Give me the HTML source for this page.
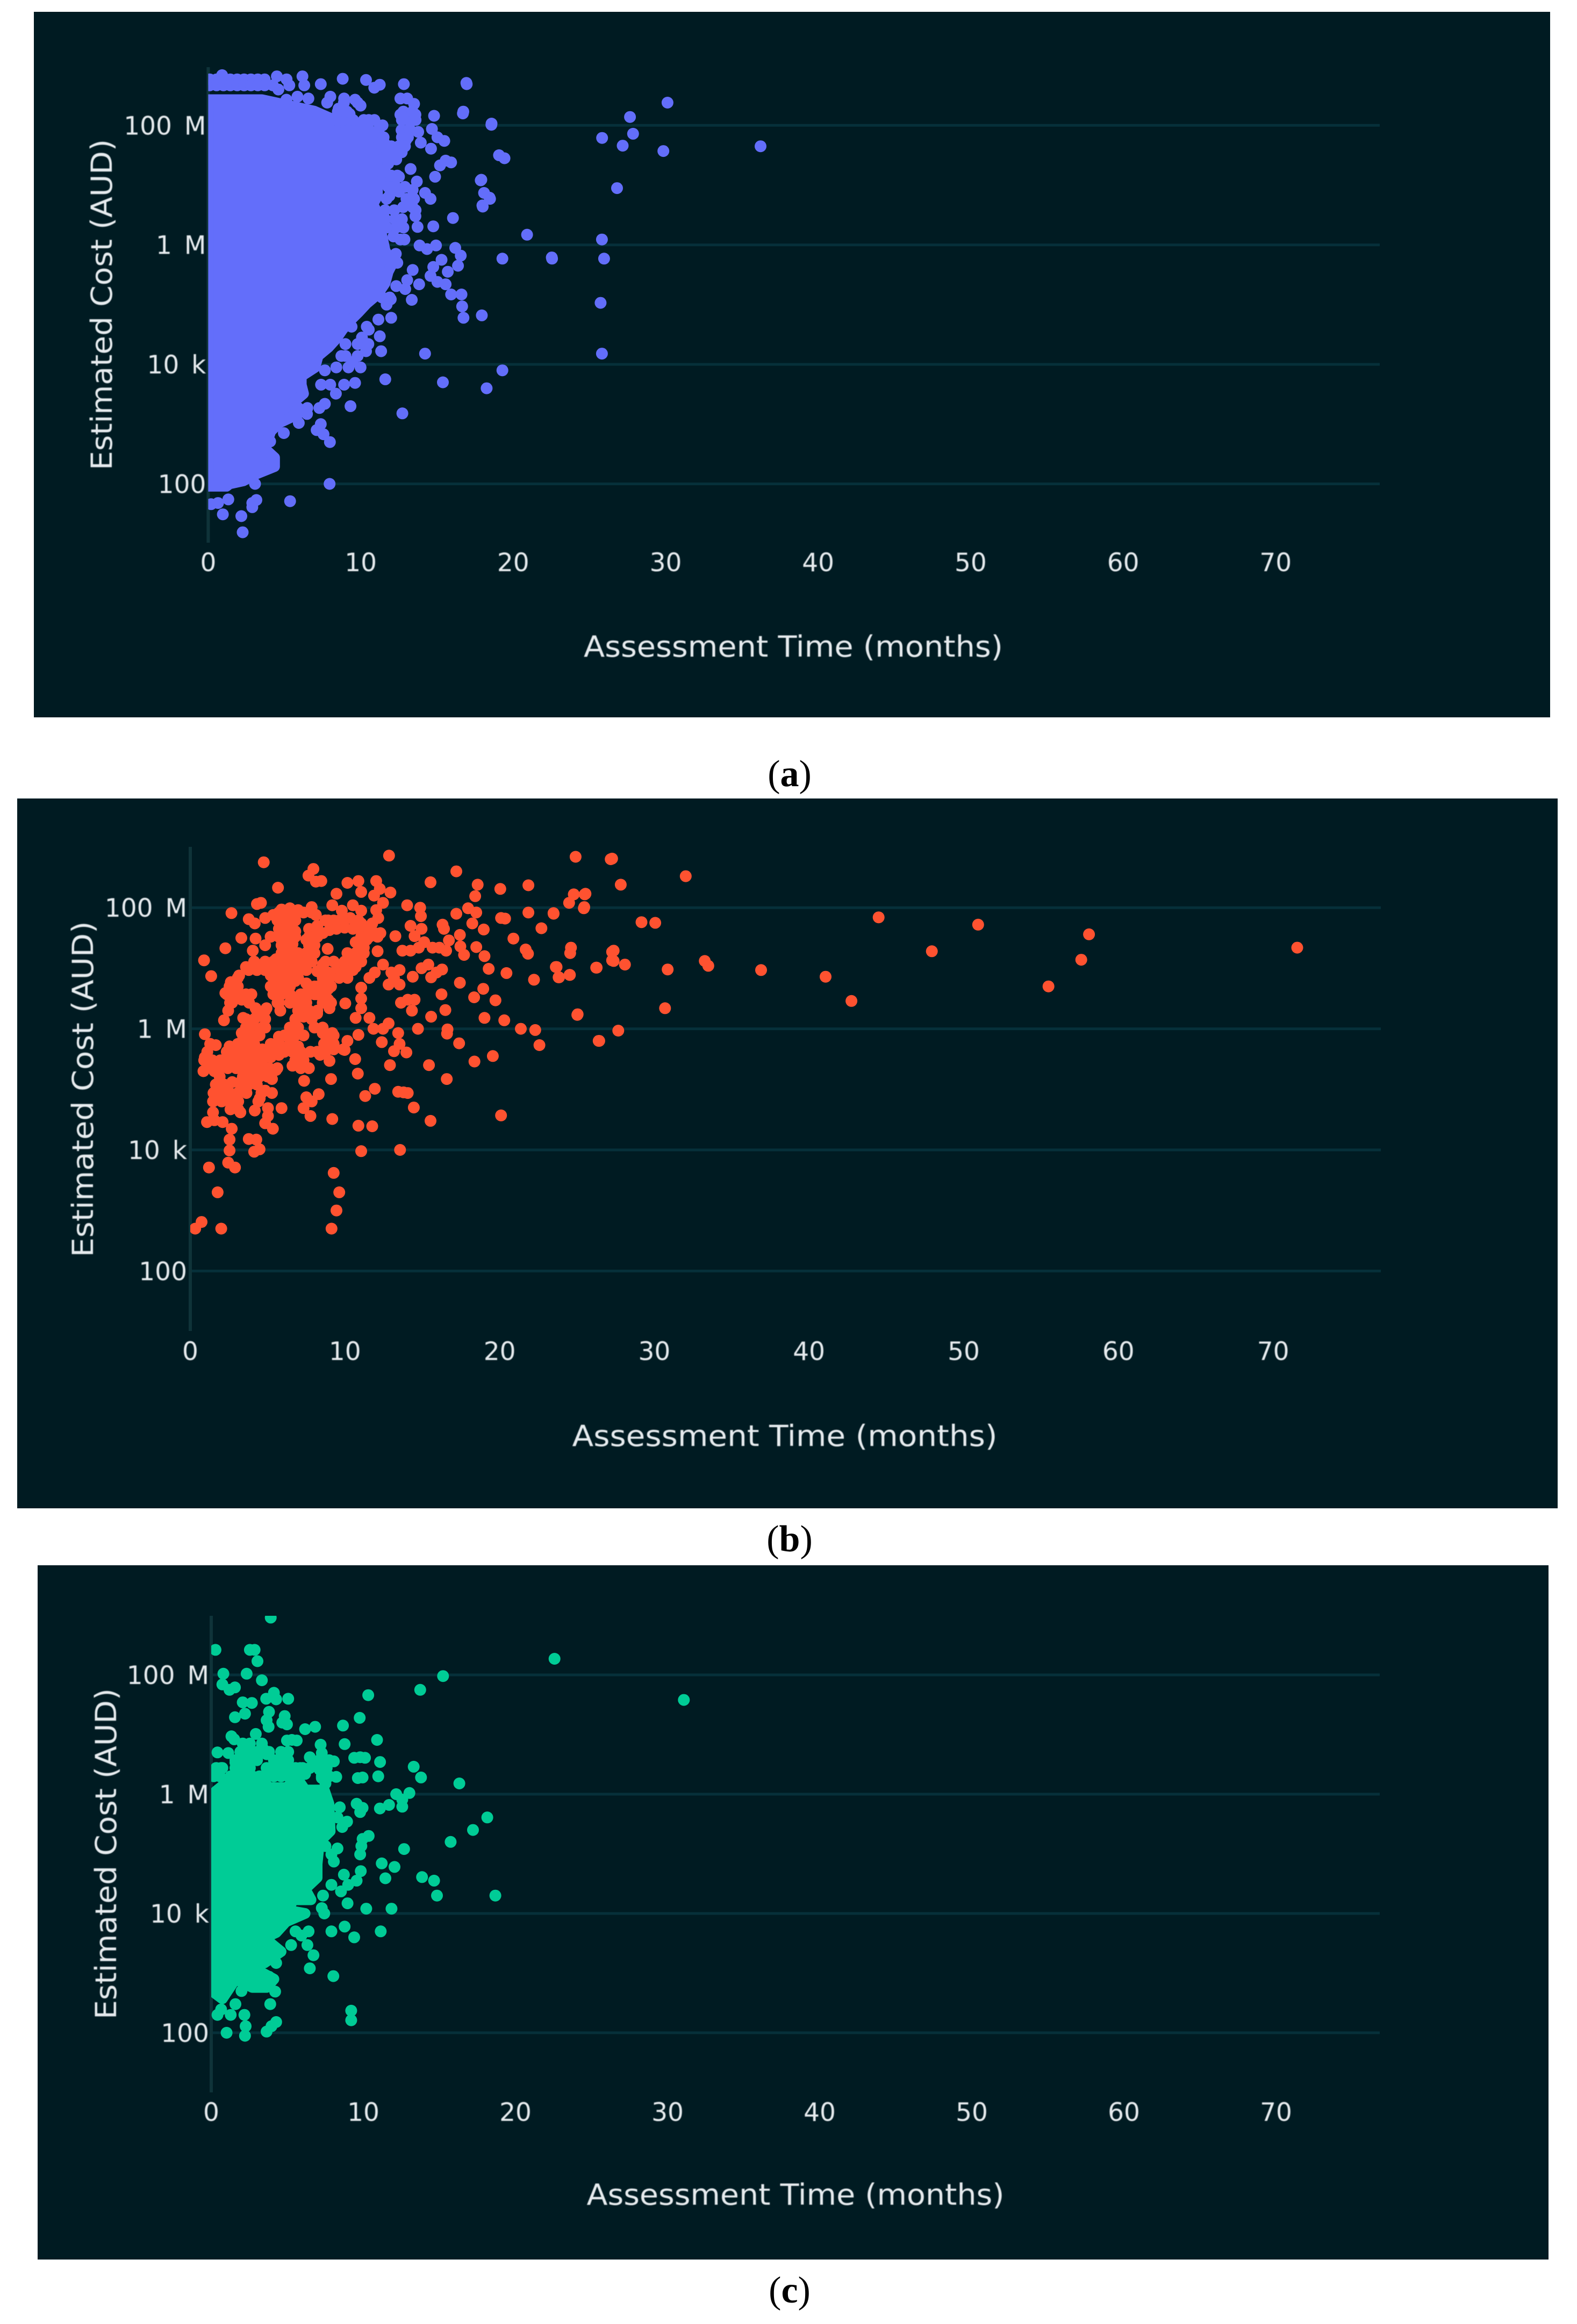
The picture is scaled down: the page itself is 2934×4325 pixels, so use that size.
<!DOCTYPE html>
<html lang="en">
<head>
<meta charset="utf-8">
<title>Estimated Cost vs Assessment Time</title>
<style>
html,body{margin:0;padding:0;background:#fff;width:2934px;height:4325px;overflow:hidden}
svg{display:block}
.tick{font-family:"DejaVu Sans","Liberation Sans",sans-serif;font-size:47px;fill:#e6ebee;filter:blur(.7px)}
.ytick{word-spacing:8px}
.title{font-family:"DejaVu Sans","Liberation Sans",sans-serif;font-size:54px;fill:#e6ebee;filter:blur(.7px)}
.cap{font-family:"Liberation Serif",serif;font-size:70px;fill:#000}
.cap tspan{font-weight:bold}
</style>
</head>
<body>
<svg id="figure" xmlns="http://www.w3.org/2000/svg" width="2934" height="4325" viewBox="0 0 2934 4325">
  <rect x="0" y="0" width="2934" height="4325" fill="#ffffff"/>

  <g id="panel-a">
    <rect x="63" y="22" width="2821" height="1313" fill="#001b22"/>
    <text class="title" x="1476" y="1222" text-anchor="middle" textLength="780" lengthAdjust="spacingAndGlyphs">Assessment Time (months)</text>
    <text class="title" transform="translate(208 567) rotate(-90)" text-anchor="middle" textLength="616" lengthAdjust="spacingAndGlyphs">Estimated Cost (AUD)</text>
  </g>
  <text class="cap" x="1469" y="1463" text-anchor="middle">(<tspan>a</tspan>)</text>

  <g id="panel-b">
    <rect x="32" y="1486" width="2866" height="1321" fill="#001b22"/>
    <text class="title" x="1460" y="2691" text-anchor="middle" textLength="791" lengthAdjust="spacingAndGlyphs">Assessment Time (months)</text>
    <text class="title" transform="translate(173 2027) rotate(-90)" text-anchor="middle" textLength="625" lengthAdjust="spacingAndGlyphs">Estimated Cost (AUD)</text>
  </g>
  <text class="cap" x="1469" y="2887" text-anchor="middle">(<tspan>b</tspan>)</text>

  <g id="panel-c">
    <rect x="70" y="2913" width="2811" height="1292" fill="#001b22"/>
    <text class="title" x="1480" y="4103" text-anchor="middle" textLength="777" lengthAdjust="spacingAndGlyphs">Assessment Time (months)</text>
    <text class="title" transform="translate(216 3450) rotate(-90)" text-anchor="middle" textLength="616" lengthAdjust="spacingAndGlyphs">Estimated Cost (AUD)</text>
  </g>
  <text class="cap" x="1469" y="4285" text-anchor="middle">(<tspan>c</tspan>)</text>
</svg>

<script>
// Shared axis data
const xTickValues = [0, 10, 20, 30, 40, 50, 60, 70];
const yTickLog10 = [2, 4, 6, 8];
const yTickLabels = ['100', '10 k', '1 M', '100 M'];

// Each point: [assessment months, log10 of estimated cost in AUD]
// Panel (a): overplotted mass, outline read as [months, log10 cost]
const panelACore = [[0,8.43],[3.52,8.43],[5.13,8.34],[6.93,8.24],[8.19,8.1],[9.81,7.96],[10.89,7.82],[11.6,7.7],[11.8,7.55],[11.3,7.41],[11.6,7.26],[11.45,7.11],[11.1,6.97],[11.1,6.82],[10.8,6.68],[11.1,6.53],[11.3,6.38],[11.3,6.24],[11.45,6.09],[11.6,5.9],[12.1,5.7],[11.8,5.55],[11.6,5.36],[11.1,5.17],[10.4,5.02],[9.85,4.87],[9.3,4.73],[8.8,4.58],[8.4,4.43],[7.9,4.29],[7.2,4.14],[7,3.95],[6.1,3.8],[6.1,3.66],[6.25,3.51],[5.55,3.36],[5.9,3.17],[4.65,3.02],[4.1,2.88],[3.9,2.73],[3.75,2.58],[4.35,2.44],[4.35,2.29],[3,2.15],[2.3,2.05],[1.4,2],[1.2,1.96],[0,1.96]];
const panelAPoints = [
[0.1,8.77],[0.55,8.77],[1,8.77],[1.45,8.77],[1.9,8.77],[2.35,8.77],[2.8,8.77],[3.25,8.77],[3.7,8.77],
[0.1,8.67],[0.55,8.67],[1,8.67],[1.45,8.67],[1.9,8.67],[2.35,8.67],[2.8,8.67],[3.25,8.67],[3.7,8.67],
[0.91,8.84],[4.5,8.82],[5.14,8.77],[4.24,8.67],[4.6,8.6],[5.32,8.67],[6.18,8.82],[6.3,8.67],[7.38,8.69],[8.82,8.78],[10.35,8.76],[10.89,8.63],[11.25,8.68],[12.83,8.69],[16.95,8.69],
[8.01,8.48],[8.91,8.45],[9.63,8.43],[9.99,8.33],[8.55,8.28],[9.27,8.19],[8.82,8.09],[6.57,8.45],[5.85,8.48],[5.13,8.43],[4.06,8.38],[10.53,8.09],[11.43,8],
[12.6,8.45],[13.05,8.45],[13.5,8.36],[13.59,8.18],[12.6,8.18],[12.68,7.92],[13.77,7.89],[13.16,8.09],[14.81,8.16],[16.7,8.2],
[18.57,8.01],[14.67,7.94],[15.03,7.8],[15.48,7.74],[13.94,7.71],[14.61,7.61],[12.96,7.75],[12.69,7.55],[12.33,7.43],
[19.07,7.5],[19.43,7.45],[15.2,7.33],[15.57,7.41],[15.93,7.38],[13.27,7.27],[14.88,7.14],[17.87,7.08],[12.51,7.14],[13.68,7.06],[13.41,6.92],[12.51,6.89],[14.22,6.87],[14.58,6.77],[11.97,7.02],[11.88,6.82],
[18.09,6.87],[18.48,6.77],[18,6.64],[12.78,6.63],[13.41,6.63],[13.59,6.48],[12.24,6.43],[12.33,6.29],[13.73,6.3],[14.76,6.31],[16.05,6.45],[12.87,6.09],[12.15,6.14],[20.91,6.17],
[25.82,6.09],[25.96,5.77],[22.55,5.77],[19.29,5.77],
[13.86,5.99],[14.35,5.93],[14.94,5.99],[16.2,5.95],[16.56,5.82],[16.38,5.65],[15.3,5.75],[14.76,5.63],[15.71,5.55],[14.58,5.48],[15.03,5.38],[15.57,5.34],[13.41,5.58],[13.05,5.41],[12.33,5.31],[12.92,5.26],[13.83,5.34],[15.93,5.17],[16.61,5.17],[16.65,4.97],[16.74,4.78],[17.94,4.82],[13.35,5.08],[11.97,5.09],[11.7,5],[12,4.78],[11.16,4.75],[10.53,4.58],[10.08,4.45],[11.25,4.47],[10.35,4.22],[11.34,4.22],[14.22,4.18],[25.82,4.18],[25.73,5.03],[19.29,3.9],[15.39,3.7],[18.26,3.6],[11.61,3.75],[9.63,3.69],[8.37,3.51],[8.91,3.66],[7.65,3.34],[9.33,3.3],[12.73,3.18],[9.99,3.95],[9.45,4.04],[7.65,3.9],[8.73,4.14],
[7.29,3.27],[6.48,3.17],[7.38,3],[7.11,2.9],[7.56,2.83],[7.98,2.7],[4.96,2.85],[4.06,2.71],[5.94,3.02],
[7.96,2],[3.07,2],[5.37,1.71],[2.89,1.68],[3.16,1.73],[2.89,1.61],[1.32,1.74],[0.64,1.68],[0.19,1.66],[0.96,1.49],[2.17,1.46],[2.26,1.19],
[30.12,8.38],[27.66,8.14],[27.86,7.86],[25.83,7.79],[27.18,7.66],[29.85,7.57],[36.22,7.65],[26.81,6.95],[22.53,5.79],[16.73,8.23],[16.93,8.71],[18.58,8.03],[17.91,7.09],[17.98,6.66],[18.45,6.79],
[7.8,8.38],[8.9,8.38],[9.8,8.38],[8.5,8.23],[9.1,8.23],[12.8,8.23],[13.4,8.23],[9.5,8.09],[10.2,8.09],[10.9,8.09],[12.7,8.09],[13.6,8.09],[10.5,7.94],[11.2,7.94],[13.2,7.94],[11,7.8],[11.5,7.8],[12.7,7.8],[13.1,7.8],[11.4,7.65],[12,7.65],[12.5,7.65],[12.9,7.65],[11.7,7.5],[12.3,7.5],[11.8,7.36],[12,7.16],[12.4,7.16],[11.8,6.97],[12.3,6.97],[12.9,6.97],[11.7,6.77],[13,6.77],[13.5,6.77],[11.6,6.58],[12.2,6.58],[13.6,6.58],[11.6,6.43],[12.7,6.43],[11.7,6.29],[12.8,6.29],[12.6,6.09],[12.3,5.85],[12.4,5.7],[11.4,5.12],[11.9,5.12],[9.4,4.63],[10.4,4.63],[9,4.34],[9.8,4.34],[10.5,4.34],[9,4.14],[9.8,4.14],[8.4,3.95],[9.2,3.95],[7.4,3.66],[8,3.66],[5.9,3.27],[6.5,3.27]
];

// Panel (b)
const panelBCore = [];
const panelBPoints = [
[4.75,8.75],[12.85,8.86],[5.67,8.33],[7.96,8.64],[7.64,8.53],[8.12,8.43],[8.47,8.44],[10.16,8.41],[10.87,8.44],[11.05,8.26],[12.02,8.44],[12.25,8.31],[12.94,8.25],[11.88,8.2],[12.46,8.08],[12.02,7.96],[12.15,7.83],[9.45,8.23],[15.53,8.42],[17.2,8.6],[18.58,8.38],[20.04,8.31],[21.86,8.37],[24.91,8.84],[27.18,8.8],[24.79,8.22],[25.55,8.23],[24.49,8.08],[25.44,7.99],[21.86,7.92],[23.49,7.9],[22.7,7.66],[20.89,7.49],[20.09,7.83],[20.35,7.82],[18.97,7.64],[18.42,8.19],[17.96,7.99],[18.49,7.92],[18.23,7.74],[17.2,7.9],[14.02,8.04],[14.86,8],[14.91,7.86],[16.31,7.72],[14.24,7.7],[14.95,7.65],[14.5,7.53],[13.26,7.53],[16.4,7.65],[17.43,7.55],[16.72,7.46],[17.46,7.36],[17.7,7.22],[18.49,7.35],[19.02,7.2],[19.29,6.99],[20.44,6.92],[22.22,6.81],[21.68,7.31],[21.83,7.24],[24.61,7.34],[24.56,7.25],[23.63,7.02],[23.81,6.85],[24.52,6.89],[26.24,7.01],[27.27,7.27],[27.27,7.13],[25.02,6.23],[26.44,5.8],[22.57,5.73],[22.3,5.98],[21.37,6],[20.3,6.14],[19.02,6.18],[19.73,6.47],[18.35,6.52],[18.94,6.66],[17.43,6.76],[16.24,6.57],[16.49,6.31],[15.57,6.2],[16.63,5.99],[16.6,5.92],[14.72,6],[17.38,5.76],[18.37,5.46],[19.56,5.55],[15.43,5.4],[16.58,5.17],[12.91,5.4],[20.09,4.57],[15.53,4.48],[14.45,4.7],[13.79,4.95],[13.44,4.96],[14.06,4.94],[11.93,5.01],[11.31,4.89],[10.87,4.4],[11.76,4.39],[11.05,3.98],[13.56,4],[9.18,4.51],[9.27,3.62],[9.63,3.3],[9.45,3],[9.13,2.7],[2,2.7],[0.32,2.7],[0.73,2.81],[1.77,3.3],[1.21,3.71],[2.45,3.79],[2.89,3.71],[2.54,4.17],[2.54,3.99],[2.68,4.35],[4.13,3.97],[4.48,4.01],[3.78,4.18],[4.27,4.17],[1.08,4.46],[1.56,4.49],[2.09,4.46],[1.47,4.62],[4.84,4.44],[5.34,4.35],[5.02,4.56],[5.9,4.69],[5.02,4.69],[4.17,4.65],[7.77,4.56],[7.32,4.69],[7.85,4.8],[8.3,4.92],[7.5,4.87],[9.1,5.17],[7.36,5.14],[10.83,5.26],[10.66,5.5],[9,5.47],[9.98,5.65],[12.38,5.78],[13.97,5.61],[13.17,5.63],[13.53,5.75],[13.44,5.93],[10.02,6.42],[8.88,7.32],[12.11,7.28],[12.29,7.58],
[4.31,8.06],[4.57,8.08],[2.66,7.91],[3.78,7.81],[4.17,7.74],[4.84,7.83],[5.37,7.88],[5.9,7.97],[6.44,7.99],[6.97,7.96],[7.85,8.01],[8.12,7.88],[6.08,7.79],[6.79,7.79],[6.26,7.61],[6.79,7.61],[5.9,7.47],[6.61,7.4],[8.21,7.7],[7.85,7.56],[8.57,7.58],[7.5,7.47],[9.18,8.04],[9.8,7.95],[10.51,8.04],[11.05,7.95],[8.92,7.79],[9.63,7.79],[10.34,7.83],[9,7.63],[9.98,7.67],[11.05,7.74],[11.58,7.65],[11.22,7.56],[11.93,7.58],[11.76,7.74],[11.4,7.47],[4.22,7.49],[5.19,7.52],[4.84,7.38],[3.3,7.5],[2.27,7.33],[0.89,7.13],[1.35,6.87],[4.04,7.29],[4.13,7.11],[3.6,7.02],[4.48,7.02],[3.16,6.88],[2.62,6.77],[5.55,7.15],[6.26,7.2],[6.97,7.25],[7.67,7.25],[6.44,7.34],[5.2,6.88],[5.9,6.97],[6.61,7.02],[7.32,7.02],[5.55,6.75],[6.26,6.79],[5.2,6.7],[5.73,6.57],[5.82,6.3],[5.64,6.43],[6.79,6.79],[8.57,7.06],[8.92,6.93],[9.63,7.04],[10.34,7.15],[10.87,7.29],[10.69,7.43],[10.16,6.93],[10.69,7.02],[11.22,7.34],[9,6.84],[8.21,6.95],[7.5,6.75],[8.21,6.7],[8.92,6.66],[7.32,6.57],[8.03,6.57],[8.92,6.48],[9,6.34],[6.97,6.43],[6.52,6.52],[7.14,6.3],[8.2,6.25],[2.27,6.59],[2.89,6.61],[3.95,6.57],[3.33,6.48],[2.57,6.43],[2.62,6.75],[2.45,6.3],[2.18,6.14],[4.22,6.34],[4.93,6.34],[3.42,6.18],[4.31,6.2],[4.84,6.16],[3.78,6.02],[4.84,6.02],[3.33,5.93],[4.13,5.89],[0.94,5.91],[1.29,5.75],[1.65,5.73],[0.94,5.53],[1.29,5.44],[0.85,5.3],[1.56,5.3],[2,5.39],[2.54,5.71],[3.24,5.66],[3.95,5.71],[4.66,5.66],[2.71,5.53],[3.6,5.48],[4.31,5.53],[5.2,5.53],[5.73,5.57],[2.36,5.39],[3.42,5.35],[4.13,5.3],[4.84,5.3],[5.55,5.32],[6.08,5.89],[5.73,5.87],[6.79,5.89],[6.97,5.71],[6.26,5.66],[6.79,6.07],[7.32,6.2],[7.14,5.53],[7.32,5.39],[6.61,5.39],[7.77,5.62],[8.03,6.02],[8.56,5.93],[9.18,5.93],[8.65,5.75],[9.27,5.66],[8.39,5.57],[9.89,5.66],[10.16,5.8],[10.87,5.9],[10.69,6.18],[11.58,6.18],[11.84,6],[12.46,6],[12.82,6.09],[11.05,6.34],[11.05,6.5],[11.05,6.68],[11.58,6.84],[11.93,6.93],[12.46,7.06],[13,6.93],[13.53,6.97],[12.82,6.73],[13.53,6.73],[13.17,6.84],[14.38,6.86],[14.95,7],[15.39,7.06],[16.28,6.98],[15.92,6.93],[15.57,6.85],[13.62,6.43],[14.06,6.48],[14.5,6.48],[14.33,6.3],[13.71,7.29],[14.24,7.29],[14.77,7.34],[15.12,7.43],[15.66,7.34],[16.1,7.34],[16.54,7.29],
[1.65,4.98],[2.18,5.08],[2.71,5.12],[3.24,5.12],[1.65,4.85],[2.36,4.89],[3.07,4.94],[3.6,4.98],[2.89,4.71],[3.24,4.62],[3.78,5.17],[4.84,4.98],[5.28,4.94],[4.49,4.85],[1.47,4.8],[5.28,5.17],[4.31,5.21],
[27.27,8.81],[32.03,8.52],[27.83,8.38],[25.47,8.01],[25.5,8.22],[29.17,7.76],[30.06,7.75],[28.1,7.06],[27.37,7.29],[27.37,7.12],[30.86,6.98],[33.26,7.12],[33.49,7.04],[36.9,6.97],[30.69,6.34],[27.67,5.97],[26.4,5.8],[25.04,6.24],[26.27,7.01],[24.54,6.89],[23.84,6.85],[23.68,7.02],[23.48,7.91],
[44.5,7.84],[47.94,7.28],[50.93,7.72],[58.1,7.56],[57.6,7.14],[55.48,6.7],[71.56,7.34],[41.07,6.86],[42.74,6.46],
// dense clusters, one group per cost level
[5.73,7.92],[6.26,7.92],[6.79,7.92],[7.32,7.92],[7.85,7.92],
[5.64,7.79],[6.17,7.79],[6.7,7.79],[8.74,7.79],[9.27,7.79],[9.8,7.79],[10.87,7.79],
[5.73,7.65],[6.26,7.65],[7.68,7.65],[9.45,7.65],[10.51,7.65],[11.05,7.65],
[5.73,7.52],[6.26,7.52],[6.79,7.52],[7.68,7.52],[8.21,7.52],[11.05,7.52],[11.58,7.52],[12.11,7.52],
[5.9,7.38],[6.44,7.38],[7.68,7.38],[8.03,7.38],[11.05,7.38],
[5.9,7.25],[6.44,7.25],[7.5,7.25],[8.03,7.25],[10.16,7.25],[10.69,7.25],[11.22,7.25],
[4.84,7.11],[5.37,7.11],[5.9,7.11],[6.44,7.11],[6.97,7.11],[7.5,7.11],[7.85,7.11],[8.74,7.11],[9.27,7.11],[9.98,7.11],[10.51,7.11],[11.05,7.11],
[3.78,6.97],[4.31,6.97],[4.84,6.97],[5.37,6.97],[6.44,6.97],[6.97,6.97],[7.5,6.97],[8.39,6.97],[9.45,6.97],[9.98,6.97],[10.51,6.97],
[3.07,6.84],[5.37,6.84],[5.9,6.84],[6.44,6.84],[6.97,6.84],[8.56,6.84],[9.63,6.84],[10.16,6.84],
[2.54,6.7],[3.07,6.7],[5.37,6.7],[5.9,6.7],[6.44,6.7],[8.03,6.7],[8.56,6.7],[9.1,6.7],
[2.36,6.57],[3.07,6.57],[3.6,6.57],[5.37,6.57],[5.9,6.57],[6.44,6.57],[7.14,6.57],[7.68,6.57],[8.21,6.57],[8.74,6.57],
[2.7,6.43],[3.8,6.43],[5.73,6.43],[6.44,6.43],[7.5,6.43],[8.56,6.43],[9.1,6.43],
[4.31,6.3],[4.84,6.3],[6.97,6.3],[7.68,6.3],[8.21,6.3],
[3.6,6.16],[4.13,6.16],[6.79,6.16],[7.85,6.16],
[3.6,6.02],[4.13,6.02],[4.66,6.02],[6.44,6.02],[6.97,6.02],[8.56,6.02],
[3.4,5.89],[3.95,5.89],[4.48,5.89],[6.26,5.89],[7.32,5.89],[8.74,5.89],[9.27,5.89],
[1.29,5.75],[3.07,5.75],[3.6,5.75],[4.13,5.75],[5.2,5.75],[5.73,5.75],[6.44,5.75],[8.74,5.75],[9.27,5.75],
[1.1,5.62],[2.36,5.62],[2.89,5.62],[3.42,5.62],[3.95,5.62],[4.48,5.62],[5.01,5.62],[5.55,5.62],[6.08,5.62],[6.61,5.62],[7.14,5.62],[8.2,5.62],[8.74,5.62],
[0.9,5.48],[1.42,5.48],[1.95,5.48],[2.48,5.48],[3,5.48],[4.13,5.48],[4.66,5.48],[6.79,5.48],[7.32,5.48],
[1.38,5.35],[1.9,5.35],[2.43,5.35],[2.96,5.35],[3.5,5.35],[4.03,5.35],[4.56,5.35],[5.1,5.35],[5.63,5.35],[7.14,5.35],[7.67,5.35],
[1.9,5.21],[3.4,5.21],[3.95,5.21],[4.48,5.21],[5,5.21],
[1.65,5.08],[2.18,5.08],[3.24,5.08],[3.78,5.08],[4.3,5.08],
[1.5,4.94],[2.03,4.94],[2.56,4.94],[3.63,4.94],[4.6,4.94],
[2.03,4.8],[2.56,4.8],[3.1,4.8],[4.4,4.8],
[2.6,4.67],[3.1,4.67]
];

// Panel (c): overplotted mass outline plus individual points
const panelCCore = [[0.3,6.05],[1.28,6.25],[3.33,6.25],[3.8,6.11],[4.91,6.11],[5.69,6.25],[6.17,6.07],[7.43,6.07],[7.74,5.84],[7.82,5.38],[7.11,5.2],[6.96,4.83],[6.96,4.6],[6.17,4.41],[6.56,4.23],[5.38,4.23],[5.06,4.05],[6.17,4],[4.91,3.86],[4.27,3.68],[3.49,3.59],[4.59,3.36],[3.49,3.17],[2.4,3.1],[3.17,3.03],[4.12,2.9],[3.64,2.76],[2.7,2.76],[1.59,2.9],[0.73,2.57],[0,2.71],[0,5.7]];
const panelCPoints = [
[3.91,8.96],[0.28,8.42],[2.54,8.42],[2.85,8.42],[3.04,8.23],[0.8,8.02],[2.33,8.02],[3.33,7.91],[0.73,7.84],[1.2,7.75],[1.56,7.79],[15.24,7.98],[13.74,7.75],[10.32,7.66],[22.57,8.27],[31.07,7.58],[4.12,7.7],[3.61,7.6],[4.27,7.59],[5.06,7.6],[2.07,7.54],[2.67,7.53],[2.22,7.35],[1.56,7.29],[3.8,7.38],[3.64,7.24],[3.77,7.13],[4.83,7.31],[4.67,7.2],[4.98,7.17],[6.17,7.09],[6.83,7.13],[8.66,7.15],[9.76,7.28],[2.93,7.01],[1.33,6.97],[1.51,6.92],[5.3,6.91],[4.98,6.9],[5.62,6.9],[10.9,6.91],[8.77,6.84],[7.19,6.83],[7.27,6.69],[0.41,6.7],[1.12,6.69],[2.3,6.8],[3.41,6.76],[3.64,6.67],[2.93,6.64],[2.22,6.57],[1.59,6.53],[4.83,6.67],[4.43,6.53],[5.06,6.48],[6.48,6.62],[6.8,6.51],[5.85,6.44],[6.17,6.34],[8.06,6.55],[7.13,6.41],[7.27,6.27],[7.51,6.18],[8.22,6.29],[9.4,6.61],[9.79,6.62],[10.11,6.61],[11.1,6.54],[10.98,6.3],[9.64,6.27],[9.95,6.28],[13.31,6.46],[13.79,6.28],[16.31,6.18],[0.33,6.34],[0.73,6.44],
[12.16,6],[13.03,6.02],[12.56,5.91],[12.56,5.79],[11.69,5.82],[11.09,5.76],[18.15,5.61],[17.21,5.4],[15.74,5.2],[12.68,5.08],[8.45,5.78],[9.56,5.84],[9.95,5.77],[9.79,5.7],[8.3,5.61],[8.93,5.54],[8.61,5.45],[10.35,5.3],[9.95,5.25],[9.87,5.13],[9.79,4.99],[7.51,5.13],[8.3,5.09],[7.9,4.99],[8.06,4.87],[11.21,4.84],[12.05,4.78],[11.45,4.59],[13.86,4.61],[14.65,4.55],[14.84,4.3],[18.68,4.3],[8.72,4.65],[9.83,4.71],[9.56,4.55],[9,4.48],[7.9,4.48],[8.53,4.37],[7.35,4.3],[8.96,4.17],[10.19,4.08],[11.85,4.08],[7.27,4.09],[7.43,4],[5.85,4],[6.32,4.3],[11.14,3.7],[9.4,3.6],[8.77,3.78],[7.9,3.7],[6.4,3.7],[5.54,3.7],[5.93,3.63],[6.32,3.47],[5.25,3.47],[6.72,3.3],[6.48,3.08],[8.03,2.95],[4.27,3.36],[4.27,3.17],[3.8,2.94],[4.2,2.69],[3.88,2.48],[1.99,2.7],[1.59,2.48],[0.65,2.39],[0.41,2.3],[1.28,2.3],[2.18,2.3],[9.2,2.37],[9.2,2.21],[2.26,2.11],[2.22,1.95],[4.27,2.18],[3.96,2.11],[3.64,2.02],[1.01,2],
// dense upper cluster, one group per cost level
[1.59,6.57],[2.07,6.57],[2.54,6.57],[3.01,6.57],[4.12,6.57],[4.59,6.57],[5.06,6.57],[7.11,6.57],[7.75,6.57],
[0.33,6.44],[0.65,6.44],[1.59,6.44],[2.07,6.44],[2.54,6.44],[3.64,6.44],[4.12,6.44],[4.59,6.44],[5.06,6.44],[5.54,6.44],[6.01,6.44],[6.48,6.44],[7.59,6.44],
[0.17,6.3],[0.57,6.3],[1.28,6.3],[1.76,6.3],[2.22,6.3],[2.7,6.3],[3.17,6.3],[3.64,6.3],[4.12,6.3],[4.59,6.3],[5.06,6.3],[5.54,6.3],[7.27,6.3],[7.75,6.3],
[1.91,6.71],[2.38,6.71],[3.01,6.71],[3.49,6.71],[3.8,6.71],[4.59,6.71],[5.06,6.71],
[2.07,6.85],[2.54,6.85],[3.33,6.85]
];

const SVG_NS = 'http://www.w3.org/2000/svg';

function drawPanel(id, core, points, color, cfg) {
  const group = document.getElementById(id);
  const xAt = function (months) { return cfg.x0 + months * cfg.pxPerMonth; };
  const yAt = function (log10Cost) { return cfg.y100 - (log10Cost - 2) * cfg.pxPerDecade; };

  // Gridlines
  yTickLog10.forEach(function (v, i) {
    const line = document.createElementNS(SVG_NS, 'line');
    
    
    line.setAttribute('x1', cfg.x0);
    line.setAttribute('x2', cfg.gridEnd);
    line.setAttribute('y1', yAt(v));
    line.setAttribute('y2', yAt(v));
    line.setAttribute('stroke', '#06303a');
    line.setAttribute('stroke-width', '5');
    group.appendChild(line);

    const label = document.createElementNS(SVG_NS, 'text');
    
    
    label.setAttribute('class', 'tick ytick');
    label.setAttribute('x', cfg.x0 - cfg.labelGap);
    label.setAttribute('y', yAt(v) + 17);
    label.setAttribute('text-anchor', 'end');
    label.textContent = yTickLabels[i];
    group.appendChild(label);
  });

  // Y axis line
  const axis = document.createElementNS(SVG_NS, 'line');
  
  
  axis.setAttribute('x1', cfg.x0);
  axis.setAttribute('x2', cfg.x0);
  axis.setAttribute('y1', cfg.axisTop);
  axis.setAttribute('y2', cfg.axisBottom);
  axis.setAttribute('stroke', '#0f3339');
  axis.setAttribute('stroke-width', '6');
  group.appendChild(axis);

  // X tick labels
  xTickValues.forEach(function (v) {
    const label = document.createElementNS(SVG_NS, 'text');
    
    
    label.setAttribute('class', 'tick');
    label.setAttribute('x', xAt(v));
    label.setAttribute('y', cfg.xTickBaseline);
    label.setAttribute('text-anchor', 'middle');
    label.textContent = String(v);
    group.appendChild(label);
  });

  // Clip marks to the plot area
  const clip = document.createElementNS(SVG_NS, 'clipPath');
  clip.setAttribute('id', id + '-clip');
  const clipRect = document.createElementNS(SVG_NS, 'rect');
  clipRect.setAttribute('x', cfg.x0);
  clipRect.setAttribute('y', cfg.axisTop);
  clipRect.setAttribute('width', cfg.gridEnd - cfg.x0);
  clipRect.setAttribute('height', cfg.axisBottom - cfg.axisTop);
  clip.appendChild(clipRect);
  group.appendChild(clip);

  const marks = document.createElementNS(SVG_NS, 'g');
  
  
  marks.setAttribute('clip-path', 'url(#' + id + '-clip)');
  marks.setAttribute('fill', color);
  group.appendChild(marks);

  if (core.length) {
    const mass = document.createElementNS(SVG_NS, 'polygon');
    
    
    mass.setAttribute('points', core.map(function (p) { return xAt(p[0]).toFixed(1) + ',' + yAt(p[1]).toFixed(1); }).join(' '));
    mass.setAttribute('stroke', color);
    mass.setAttribute('stroke-width', '20');
    mass.setAttribute('stroke-linejoin', 'round');
    marks.appendChild(mass);
  }

  points.forEach(function (p) {
    const dot = document.createElementNS(SVG_NS, 'circle');
    
    
    dot.setAttribute('cx', xAt(p[0]).toFixed(1));
    dot.setAttribute('cy', yAt(p[1]).toFixed(1));
    dot.setAttribute('r', '11');
    marks.appendChild(dot);
  });
}

drawPanel('panel-a', panelACore, panelAPoints, '#636efa', {
  x0: 387.4, pxPerMonth: 28.37, y100: 900.5, pxPerDecade: 111.2,
  gridEnd: 2567, axisTop: 125, axisBottom: 1010, xTickBaseline: 1063, labelGap: 4
});
drawPanel('panel-b', panelBCore, panelBPoints, '#ff5230', {
  x0: 354, pxPerMonth: 28.78, y100: 2365.4, pxPerDecade: 112.7,
  gridEnd: 2569, axisTop: 1576, axisBottom: 2477, xTickBaseline: 2531, labelGap: 6
});
drawPanel('panel-c', panelCCore, panelCPoints, '#00cc96', {
  x0: 393, pxPerMonth: 28.3, y100: 3783, pxPerDecade: 111,
  gridEnd: 2567, axisTop: 3007, axisBottom: 3894, xTickBaseline: 3947, labelGap: 4
});
</script>
</body>
</html>
